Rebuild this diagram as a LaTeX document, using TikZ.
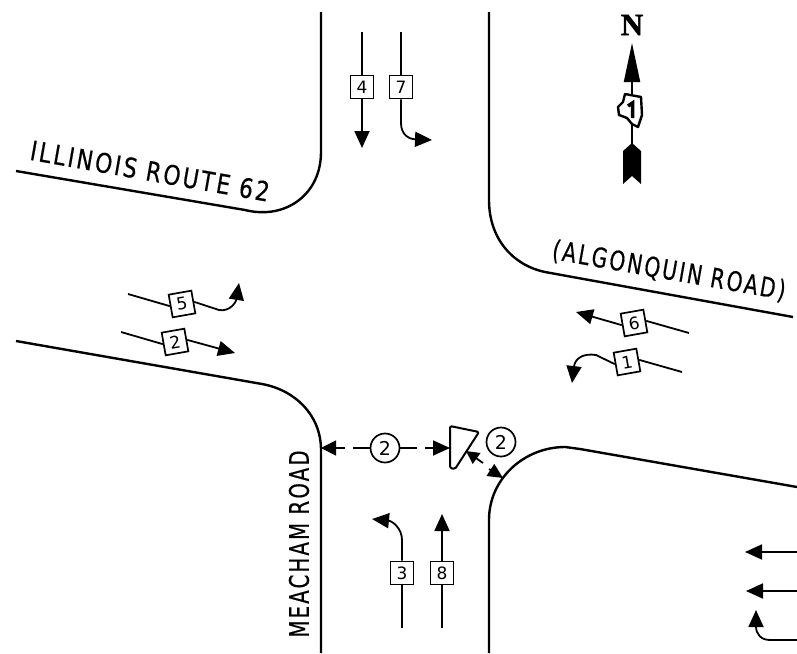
\documentclass[tikz,border=0pt]{standalone}
\usepackage{fontspec}
\setmainfont{DejaVu Sans}
\newfontfamily\roadfont[LetterSpace=11,FakeBold=0.5]{DejaVu Sans}
\newfontfamily\northfont[FakeBold=1.5]{Liberation Serif}
\usetikzlibrary{calc}
\usetikzlibrary{arrows.meta}
\tikzset{
  curb/.style={black, line width=2.4pt, line join=round},
  lead/.style={black, line width=1.8pt},
  move/.style={black, line width=1.8pt, -{Triangle[length=17pt,width=15pt]}},
  phase/.style={draw=black, line width=1.7pt, fill=white, minimum size=23pt, inner sep=0pt, font=\fontsize{17}{17}\selectfont},
  dist/.style={draw=black, line width=1.7pt, fill=white, circle, minimum size=29pt, inner sep=0pt, font=\fontsize{19}{19}\selectfont},
  roadname/.style={inner sep=0pt, font=\fontsize{27}{27}\selectfont\roadfont},
}
\begin{document}
\begin{tikzpicture} [x=1pt, y=-1pt]
\useasboundingbox (0,0) rectangle (797,653);

% curb lines
\draw[curb] (16,171)--(245,210) .. controls (285,220) and (321,195) .. (321,152)--(321,12);
\draw[curb] (489,12)--(489,200) .. controls (489,238) and (512,265) .. (545,272)--(793,317);
\draw[curb] (16,341)--(262,384) .. controls (295,390) and (321,415) .. (321,450)--(321,653);
\draw[curb] (489,653)--(489,520) .. controls (489,478) and (525,447) .. (565,447) -- (580,449)--(797,487);

\node[roadname, rotate=-10, xscale=.81] (routename) at (150,171) {ILLINOIS ROUTE 62};
\node[roadname, rotate=-10, xscale=.75] (algonquinname) at (669,271) {(ALGONQUIN ROAD)};
\node[roadname, rotate=90, xscale=.73] (meachamname) at (299,544) {MEACHAM ROAD};

% phase boxes
\foreach \lab/\px/\py/\ang in {4/362/87/0, 7/401/87/0, 5/182/304/10, 2/175/342/10, 6/634/323/10, 1/627/362/10, 3/402/573/0, 8/442/573/0}
  \node[phase, rotate=\ang] (ph\lab) at (\px,\py) {\lab};

% free ends
\coordinate (s4) at (362,32);
\coordinate (e4) at (362,148);
\coordinate (s7) at (401,32);
\coordinate (e7) at (432,140);
\coordinate (s5) at (128,294);
\coordinate (e5) at (239,283);
\coordinate (s2) at (121,332);
\coordinate (e2) at (235,353);
\coordinate (s6) at (689,333);
\coordinate (e6) at (576,312);
\coordinate (s1) at (682,372);
\coordinate (e1) at (572,383);
\coordinate (s3) at (402,628);
\coordinate (e3) at (372,519);
\coordinate (s8) at (442,628);
\coordinate (e8) at (442,514);

\draw[lead] (s4)--(ph4.north);
\draw[move] (ph4.south)--(e4);
\draw[lead] (s7)--(ph7.north);
\draw[move] (ph7.south)--(401,123) .. controls (401,134) and (408,139) .. (e7);
\draw[lead] (s5)--(ph5.west);
\draw[move] (ph5.east)--(219,310) .. controls (230,312) and (236,302) .. (e5);
\draw[lead] (s2)--(ph2.west);
\draw[move] (ph2.east)--(e2);
\draw[lead] (s6)--(ph6.east);
\draw[move] (ph6.west)--(e6);
\draw[lead] (s1)--(ph1.east);
\draw[move] (ph1.west)--(596,355) .. controls (584,353) and (575,358) .. (e1);
\draw[lead] (s3)--(ph3.south);
\draw[move] (ph3.north)--(402,540) .. controls (402,528) and (392,521) .. (e3);
\draw[lead] (s8)--(ph8.south);
\draw[move] (ph8.north)--(e8);

% right edge arrows
\coordinate (r1) at (797,552);
\coordinate (l1) at (745,552);
\coordinate (r2) at (797,591);
\coordinate (l2) at (746,591);
\coordinate (r3) at (797,640);
\coordinate (l3) at (756,610);
\draw[move] (r1)--(l1);
\draw[move] (r2)--(l2);
\draw[move] (r3)--(770,640) .. controls (761,640) and (756,634) .. (l3);

% signal head
\draw[black, line width=2pt, fill=white, line join=round, rounded corners=1.5pt] (450,426)--(479,432)--(455,469)--(450,468)--cycle;

% distances
\node[dist] (d1) at (385,448) {2};
\node[dist] (d2) at (501,442) {2};
\coordinate (c1) at (321,448);
\coordinate (c2) at (450,448);
\coordinate (c3) at (466,451);
\coordinate (c4) at (503,478);
\draw[lead, {Triangle[length=15pt,width=15pt]}-] (c1)--(345,448);
\draw[lead] (353,448)--(d1.west);
\draw[lead] (d1.east)--(417,448);
\draw[lead, -{Triangle[length=17pt,width=15pt]}] (425,448)--(c2);
\draw[lead, {Triangle[length=13pt,width=13pt]}-] (c3)--(483,463);
\draw[lead, -{Triangle[length=15pt,width=14pt]}] (489,469)--(c4);

% north arrow
\node[inner sep=0pt, font=\fontsize{31}{31}\selectfont\northfont\bfseries] (northlabel) at (632,25) {N};
\coordinate (ntip) at (632,43);
\coordinate (nfoot) at (632,145);
\draw[black, line width=2pt, -{Triangle[length=39pt,width=16pt]}] (nfoot)--(ntip);
\fill[black] (632,143)--(641,151)--(641,184)--(632,176)--(623,184)--(623,151)--cycle;
\draw[black, line width=2.4pt, fill=white, line join=round] (625,94)--(641,97)--(642,115)--(638,127)--(632,124)--(627,118)--(619,115)--(618,107)--(623,102)--cycle;
\draw[black, line width=3.5pt] (628,106)--(632.5,103)--(632.5,118);
\end{tikzpicture}
\end{document}
